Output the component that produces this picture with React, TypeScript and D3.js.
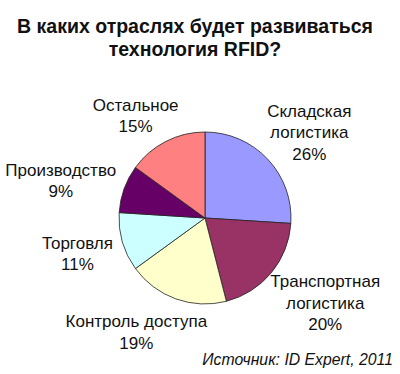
import React, { useEffect, useRef } from "react";
import * as d3 from "d3";

const titleLines = ["В каких отраслях будет развиваться", "технология RFID?"];
const categories = [
  ["Складская", "логистика"],
  ["Транспортная", "логистика"],
  ["Контроль доступа"],
  ["Торговля"],
  ["Производство"],
  ["Остальное"],
];
const values = [26, 20, 19, 11, 9, 15];
const colors = ["#9999FF", "#993366", "#FFFFCC", "#CCFFFF", "#660066", "#FF8080"];
const sourceText = "Источник: ID Expert, 2011";

const W = 400;
const H = 374;
const FONT = "Arial, 'Liberation Sans', sans-serif";

export default function App() {
  const ref = useRef<SVGSVGElement>(null);

  useEffect(() => {
    const svg = d3.select(ref.current);
    svg.selectAll("*").remove();

    svg.append("rect").attr("width", W).attr("height", H).attr("fill", "#fff");

    const title = svg
      .append("text")
      .attr("text-anchor", "middle")
      .attr("font-family", FONT)
      .attr("font-weight", "bold")
      .attr("font-size", 19.5)
      .attr("fill", "#111");
    titleLines.forEach((t, i) => {
      title.append("tspan").attr("x", 195).attr("y", 33 + i * 23).text(t);
    });

    const cx = 205;
    const cy = 218;
    const r = 86;

    const pie = d3.pie<number>().sort(null).value((d) => d);
    const arcs = pie(values);
    const arc = d3.arc<d3.PieArcDatum<number>>().innerRadius(0).outerRadius(r);

    const g = svg.append("g").attr("transform", `translate(${cx},${cy})`);
    g.selectAll("path")
      .data(arcs)
      .join("path")
      .attr("d", arc)
      .attr("fill", (_, i) => colors[i])
      .attr("stroke", "#222")
      .attr("stroke-width", 0.8);

    const fs = 17;
    const lh = 21.3;
    const d = 11;
    arcs.forEach((a, i) => {
      const lines = [...categories[i], `${values[i]}%`];
      const lab = g
        .append("text")
        .attr("text-anchor", "middle")
        .attr("font-family", FONT)
        .attr("font-size", fs)
        .attr("fill", "#111");
      lines.forEach((t, j) => {
        lab.append("tspan").attr("x", 0).attr("y", j * lh).text(t);
      });
      const bb = (lab.node() as SVGTextElement).getBBox();
      const w = bb.width;
      const h = lines.length * lh;
      const theta = (a.startAngle + a.endAngle) / 2;
      const sx = Math.sin(theta);
      const sy = -Math.cos(theta);
      const fx = Math.sign(sx) * (0.25 + 0.75 * Math.abs(sx));
      const bx = (r + d) * sx + (w / 2) * fx;
      const by = (r + d) * sy + (h / 2) * sy;
      const top = by - h / 2;
      lab.attr("transform", `translate(${bx},${top + fs * 1.13})`);
    });

    svg
      .append("text")
      .attr("x", 393)
      .attr("y", 365)
      .attr("text-anchor", "end")
      .attr("font-family", FONT)
      .attr("font-style", "italic")
      .attr("font-size", 15.8)
      .attr("fill", "#111")
      .text(sourceText);
  }, []);

  return (
    <svg
      ref={ref}
      width={W}
      height={H}
      style={{ position: "absolute", left: 0, top: 0 }}
    />
  );
}
